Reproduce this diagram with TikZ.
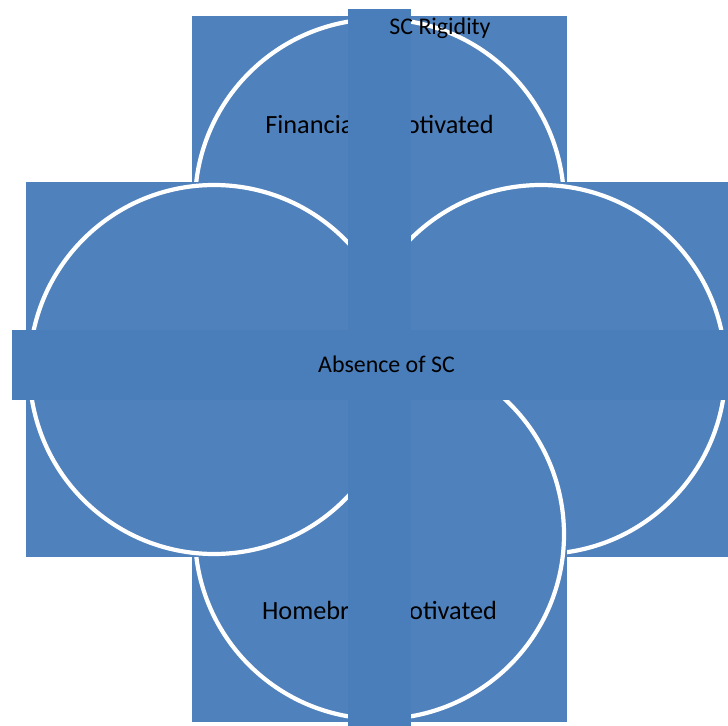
\documentclass[tikz,border=0pt]{standalone}
\usepackage{fontspec}
\setmainfont{Carlito}
\definecolor{sqblue}{HTML}{4F81BD}
\definecolor{barblue}{HTML}{4A7EBB}
\begin{document}
\begin{tikzpicture}[x=1bp,y=-1bp,
  sqbox/.style={rectangle,fill=sqblue,draw=none,minimum size=375bp,inner sep=0pt,outer sep=0pt},
  ring/.style={circle,fill=sqblue,draw=white,line width=4.2bp,minimum size=369bp,inner sep=0pt,outer sep=0pt},
  vbar/.style={rectangle,fill=barblue,draw=none,inner sep=0pt,outer sep=0pt},
  bigtxt/.style={font=\fontsize{26.4}{30}\selectfont,text=black,inner sep=0pt,anchor=base},
  smalltxt/.style={font=\fontsize{24}{28}\selectfont,text=black,inner sep=0pt,anchor=base}]
\useasboundingbox (0,0) rectangle (728,726);
% top
\node[sqbox] (tsq) at (379.5,203.5) {};
\node[ring] (tc) at (379.5,203.5) {};
% right
\node[sqbox] (rsq) at (541,369.5) {};
\node[ring] (rc) at (541,369.5) {};
% bottom
\node[sqbox] (bsq) at (379.5,534.5) {};
\node[ring] (bc) at (379.5,534.5) {};
% left
\node[sqbox] (lsq) at (214,369.5) {};
\node[ring] (lc) at (214,369.5) {};
% circle labels
\node[bigtxt] (fin) at (379.5,134) {Financially Motivated};
\node[bigtxt] (hom) at (379.5,619.5) {Homebrew Motivated};
% bars
\node[vbar,minimum width=63bp,minimum height=717bp] (vb) at (379.5,367.5) {};
\node[vbar,minimum width=716bp,minimum height=70bp] (hb) at (370,365) {};
% bar labels
\node[smalltxt] (scr) at (440,35) {SC Rigidity};
\node[smalltxt] (abs) at (386.5,372) {Absence of SC};
\end{tikzpicture}
\end{document}
